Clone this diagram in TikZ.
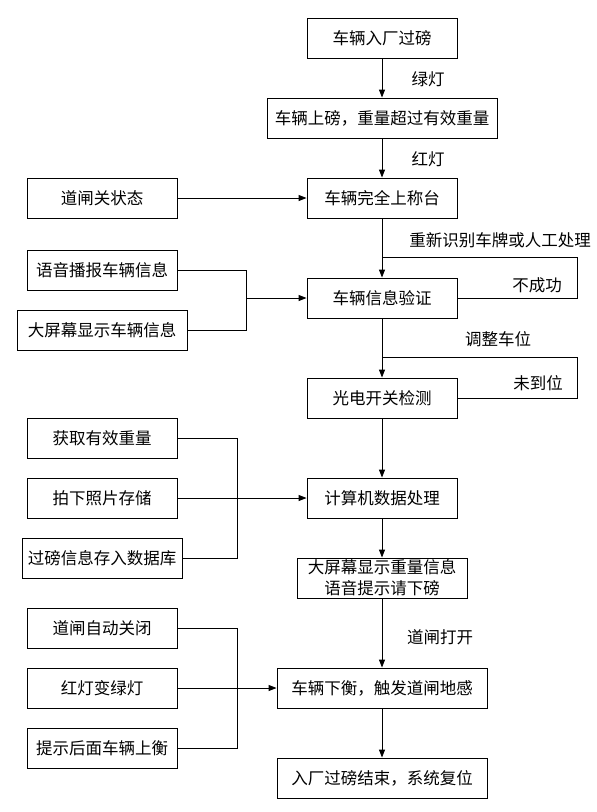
\documentclass[tikz,border=0pt]{standalone}
\usepackage{fontspec}
\setmainfont{Noto Sans CJK SC}
\usetikzlibrary{arrows.meta}
\begin{document}
\begin{tikzpicture}[x=1pt,y=-1pt,
  txt/.style={font=\fontsize{16.5}{21}\selectfont, inner sep=0pt},
  box/.style={txt, draw, line width=0.9pt, minimum height=40pt, align=center},
  lbl/.style={txt},
  ln/.style={line width=0.9pt},
  arr/.style={line width=0.9pt, -{Triangle[length=8pt,width=6pt]}}]
\useasboundingbox (0,0) rectangle (597,812);
% main column
\node[box, minimum width=150pt] (b1) at (382,38) {车辆入厂过磅};
\node[box, minimum width=230pt] (b2) at (382,118) {车辆上磅，重量超过有效重量};
\node[box, minimum width=150pt] (b3) at (382,198) {车辆完全上称台};
\node[box, minimum width=150pt] (b4) at (382,298) {车辆信息验证};
\node[box, minimum width=150pt] (b5) at (382,398) {光电开关检测};
\node[box, minimum width=150pt] (b6) at (382,498) {计算机数据处理};
\node[box, minimum width=170pt] (b7) at (382,578) {大屏幕显示重量信息\\语音提示请下磅};
\node[box, minimum width=210pt] (b8) at (382,688) {车辆下衡，触发道闸地感};
\node[box, minimum width=210pt] (b9) at (382,778) {入厂过磅结束，系统复位};
% left column
\node[box, minimum width=150pt] (l1) at (102,198) {道闸关状态};
\node[box, minimum width=150pt] (l2) at (102,270) {语音播报车辆信息};
\node[box, minimum width=170pt] (l3) at (102,330) {大屏幕显示车辆信息};
\node[box, minimum width=150pt] (l4) at (102,438) {获取有效重量};
\node[box, minimum width=150pt] (l5) at (102,498) {拍下照片存储};
\node[box, minimum width=160pt] (l6) at (102,558) {过磅信息存入数据库};
\node[box, minimum width=150pt] (l7) at (102,628) {道闸自动关闭};
\node[box, minimum width=150pt] (l8) at (102,688) {红灯变绿灯};
\node[box, minimum width=150pt] (l9) at (102,748) {提示后面车辆上衡};
% labels
\node[lbl] (t1) at (428,79) {绿灯};
\node[lbl] (t2) at (428,159) {红灯};
\node[lbl] (t3) at (500,240) {重新识别车牌或人工处理};
\node[lbl] (t4) at (537,285) {不成功};
\node[lbl] (t5) at (498,339) {调整车位};
\node[lbl] (t6) at (538,383) {未到位};
\node[lbl] (t7) at (440,637) {道闸打开};
% main arrows
\draw[arr] (b1) -- (b2);
\draw[arr] (b2) -- (b3);
\draw[arr] (b3) -- (b4);
\draw[arr] (b4) -- (b5);
\draw[arr] (b5) -- (b6);
\draw[arr] (b6) -- (b7);
\draw[arr] (b7) -- (b8);
\draw[arr] (b8) -- (b9);
% loops
\coordinate (j1) at (382,257);
\coordinate (r1) at (577,257);
\draw[ln] (j1) -- (r1) |- (b4.east);
\coordinate (j2) at (382,357);
\coordinate (r2) at (577,357);
\draw[ln] (j2) -- (r2) |- (b5.east);
% left connectors
\draw[arr] (l1) -- (b3);
\coordinate (m1) at (246,298);
\draw[ln] (l2.east) -| (m1);
\draw[ln] (l3.east) -| (m1);
\draw[arr] (m1) -- (b4.west);
\coordinate (m2) at (237,498);
\draw[ln] (l4.east) -| (m2);
\draw[ln] (l6.east) -| (m2);
\draw[arr] (l5.east) -- (b6.west);
\coordinate (m3) at (237,688);
\draw[ln] (l7.east) -| (m3);
\draw[ln] (l9.east) -| (m3);
\draw[arr] (l8.east) -- (b8.west);
\end{tikzpicture}
\end{document}
